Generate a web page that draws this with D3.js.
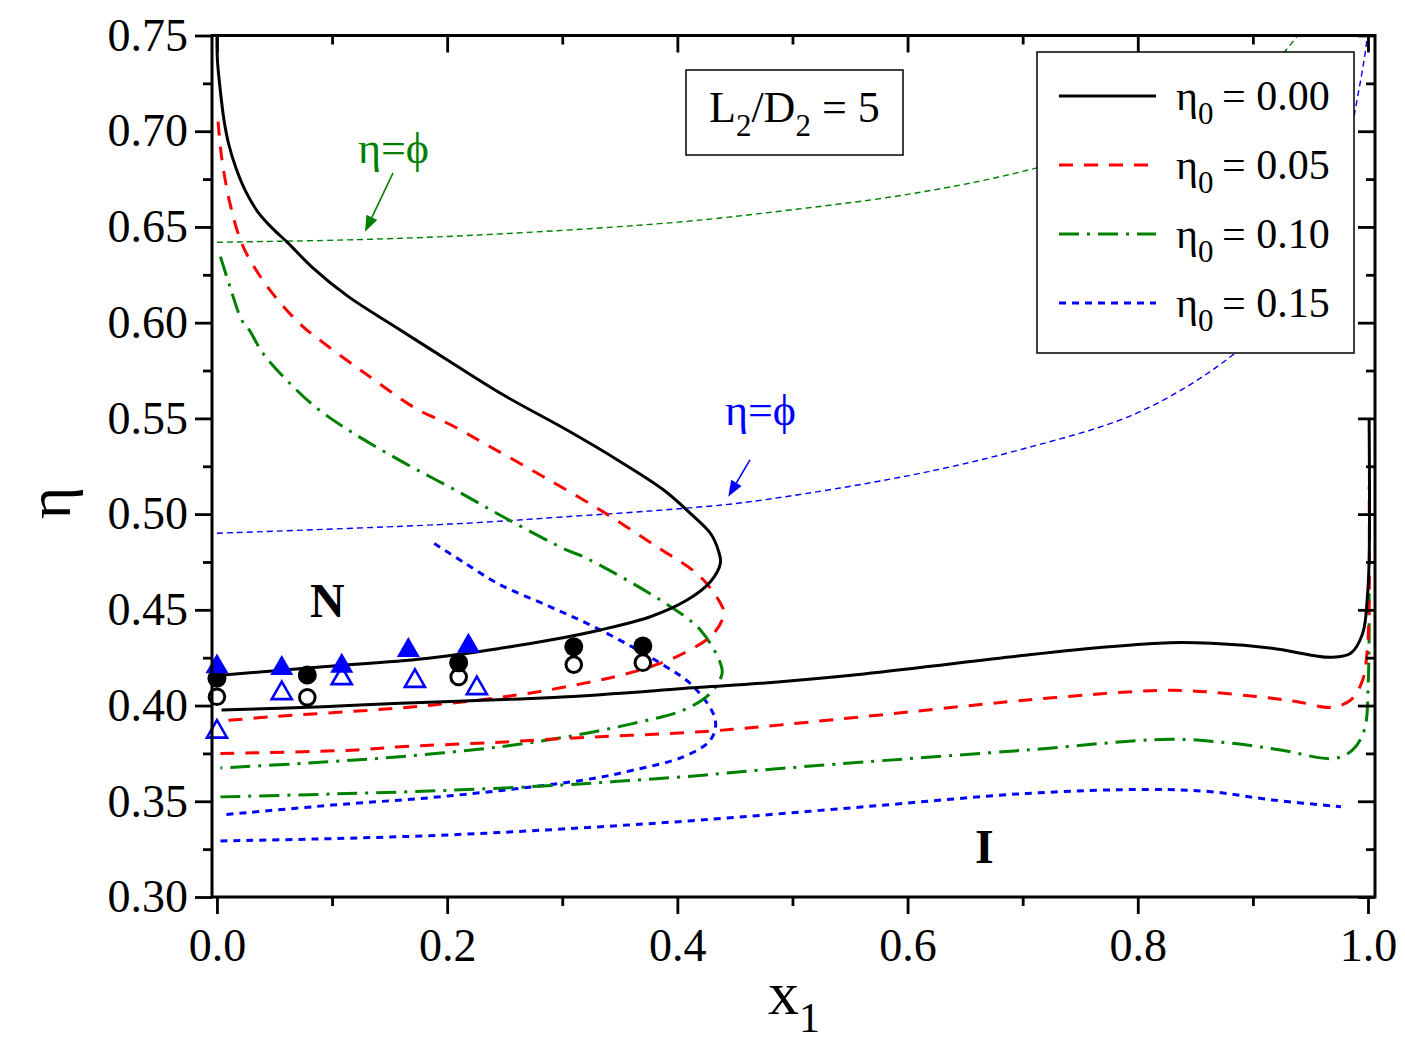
<!DOCTYPE html>
<html>
<head>
<meta charset="utf-8">
<style>
body { margin: 0; background: #fff; }
svg text { font-family: "Liberation Serif", "Times New Roman", serif; white-space: pre; }
</style>
</head>
<body>
<svg width="1405" height="1046"></svg>
<script src="https://d3js.org/d3.v7.min.js"></script>
<script>
// ---- data: [x1, eta] ----
// eta0 = 0.00
var black_upper = [[0.000,0.752],[0.0004,0.7372],[0.0026,0.7231],[0.0061,0.7059],[0.0104,0.6928],[0.0165,0.6808],[0.0252,0.6683],
  [0.0356,0.6578],[0.0478,0.6495],[0.0617,0.6417],[0.0823,0.6292],[0.1142,0.6136],[0.1548,0.5979],[0.2026,0.5796],[0.249,0.5622],
  [0.3041,0.5439],[0.3504,0.5274],[0.3881,0.5126],[0.4113,0.5004],[0.4287,0.490],[0.4355,0.4812],[0.4374,0.4745],[0.4287,0.4647],
  [0.4084,0.4551],[0.3765,0.4464],[0.333,0.4395],[0.2896,0.4342],[0.2461,0.4299],[0.1794,0.4245],[0.0924,0.4203],[0.003,0.4158]];
var black_lower = [[0.004,0.3977],[0.0922,0.3994],[0.159,0.4012],[0.2548,0.4033],[0.304,0.4046],[0.42,0.4095],[0.472,0.4116],
  [0.562,0.4165],[0.704,0.4264],[0.775,0.4307],[0.828,0.4328],[0.8635,0.4325],[0.9166,0.4299],[0.952,0.4262],[0.968,0.4252],
  [0.985,0.4273],[0.9954,0.4377],[0.9995,0.4569],[1.001,0.476],[1.001,0.550]];
// eta0 = 0.05
var red_upper = [[0.001,0.705],[0.004,0.6867],[0.0113,0.6623],[0.0215,0.6415],[0.034,0.6275],[0.0520,0.6125],[0.0737,0.5985],
  [0.0870,0.5920],[0.1287,0.5735],[0.175,0.5544],[0.2026,0.5468],[0.2374,0.5352],[0.2837,0.5195],[0.333,0.5021],[0.38,0.4838],
  [0.42,0.4673],[0.4374,0.4534],[0.4405,0.4482],[0.4316,0.4377],[0.4055,0.4273],[0.3678,0.4186],[0.3185,0.4116],[0.2606,0.4055],
  [0.188,0.4003],[0.136,0.3977],[0.049,0.3942],[0.003,0.3919]];
var red_lower = [[0.003,0.375],[0.1215,0.3768],[0.159,0.3785],[0.2374,0.3806],[0.304,0.3829],[0.42,0.3863],[0.472,0.3889],
  [0.5617,0.3942],[0.704,0.4029],[0.8104,0.4077],[0.846,0.4077],[0.9166,0.4038],[0.9389,0.402],[0.968,0.3991],[0.985,0.4029],
  [0.9954,0.4133],[0.9991,0.4273],[1.001,0.4516],[1.001,0.5143]];
// eta0 = 0.10
var green_upper = [[0.003,0.6345],[0.0113,0.6188],[0.0215,0.6014],[0.0280,0.5962],[0.0400,0.584],[0.0591,0.5709],[0.0852,0.5561],
  [0.1142,0.5439],[0.1635,0.5265],[0.207,0.5126],[0.2526,0.4973],[0.304,0.4812],[0.3185,0.4777],[0.3852,0.4551],[0.42,0.4395],
  [0.4374,0.4221],[0.4389,0.4168],[0.4287,0.4064],[0.4055,0.3977],[0.362,0.3907],[0.304,0.3837],[0.2461,0.3785],[0.159,0.3733],
  [0.08,0.370],[0.003,0.3674]];
var green_lower = [[0.003,0.3523],[0.1,0.3538],[0.2,0.3557],[0.3,0.3585],[0.362,0.361],[0.42,0.3635],[0.472,0.3663],[0.5617,0.3705],
  [0.704,0.3768],[0.828,0.3824],[0.8814,0.3803],[0.924,0.3768],[0.9707,0.3724],[0.9867,0.3768],[0.9968,0.3872],[1.0003,0.4133],
  [1.001,0.4586]];
// eta0 = 0.15
var blue_upper = [[0.1888,0.4847],[0.2157,0.4743],[0.2446,0.4635],[0.2896,0.4516],[0.333,0.4395],[0.3852,0.4221],[0.4142,0.4098],
  [0.433,0.3924],[0.4287,0.382],[0.4055,0.3733],[0.362,0.3663],[0.3185,0.3611],[0.2,0.3527],[0.1,0.348],[0.003,0.3428]];
var blue_lower = [[0.003,0.3293],[0.1,0.3305],[0.2,0.3324],[0.3,0.3355],[0.42,0.3402],[0.5617,0.3471],[0.704,0.3541],
  [0.8104,0.3562],[0.8635,0.355],[0.9166,0.3507],[0.9765,0.3472]];
// eta = phi lines
var green_phi = [[0.0,0.642],[0.13,0.6435],[0.25,0.6465],[0.4,0.6525],[0.5,0.659],[0.6,0.667],[0.7,0.679],[0.8,0.697],
  [0.9,0.726],[0.939,0.750],[0.96,0.77]];
var blue_phi = [[0.0,0.490],[0.2026,0.4948],[0.3,0.4985],[0.4055,0.503],[0.4635,0.5065],[0.6,0.520],[0.7,0.534],[0.8,0.553],
  [0.879,0.5815],[0.92,0.606],[0.95,0.630],[0.975,0.665],[0.988,0.708],[0.9985,0.745],[1.002,0.77]];

// experimental points
var pts_filled_circle = [[0.0,0.4142],[0.0785,0.4160],[0.210,0.4224],[0.310,0.4307],[0.370,0.4311]];
var pts_open_circle   = [[0.0,0.4046],[0.0785,0.4043],[0.210,0.4149],[0.310,0.4214],[0.370,0.4224]];
var pts_filled_tri    = [[0.0,0.4203],[0.0563,0.4194],[0.1084,0.4206],[0.1663,0.4288],[0.2185,0.4311]];
var pts_open_tri      = [[0.0,0.3863],[0.0563,0.4064],[0.1084,0.4142],[0.172,0.4128],[0.2258,0.4090]];

var xMajor = [0.0, 0.2, 0.4, 0.6, 0.8, 1.0];
var xMinor = [0.1, 0.3, 0.5, 0.7, 0.9];
var yMajor = [0.30, 0.35, 0.40, 0.45, 0.50, 0.55, 0.60, 0.65, 0.70, 0.75];
var yMinor = [0.325, 0.375, 0.425, 0.475, 0.525, 0.575, 0.625, 0.675, 0.725];
var legendLabels = ["0.00", "0.05", "0.10", "0.15"];

var svg = d3.select("svg");
var L = 212, R = 1375, T = 35.5, B = 897;

var x = d3.scaleLinear().domain([-0.0043, 1.0061]).range([L, R]);
var y = d3.scaleLinear().domain([0.30, 0.75]).range([B, T]);

var styles = [
  { color: "#000000", dash: null,         width: 3 },
  { color: "#ff0000", dash: "14,11",      width: 3 },
  { color: "#008000", dash: "20,8,3,8",   width: 3 },
  { color: "#0000ff", dash: "7,6",        width: 3 }
];

svg.append("clipPath").attr("id", "plotclip")
  .append("rect").attr("x", L).attr("y", T).attr("width", R - L).attr("height", B - T);

var line = d3.line()
    .x(function(d) { return x(d[0]); })
    .y(function(d) { return y(d[1]); })
    .curve(d3.curveCatmullRom.alpha(0.5));

var plot = svg.append("g").attr("clip-path", "url(#plotclip)");

// thin eta = phi lines
[[green_phi, "#008000"], [blue_phi, "#0000ff"]].forEach(function(p) {
  plot.append("path").datum(p[0])
    .attr("d", line).attr("fill", "none")
    .attr("stroke", p[1]).attr("stroke-width", 1.4)
    .attr("stroke-dasharray", "6,4");
});

var curves = [
  [black_upper, black_lower],
  [red_upper, red_lower],
  [green_upper, green_lower],
  [blue_upper, blue_lower]
];
curves.slice().reverse().forEach(function(c, j) {
  var s = styles[3 - j];
  c.forEach(function(branch) {
    plot.append("path").datum(branch)
      .attr("d", line).attr("fill", "none")
      .attr("stroke", s.color).attr("stroke-width", s.width)
      .attr("stroke-dasharray", s.dash)
      .attr("stroke-linejoin", "round");
  });
});

// markers
var tri = d3.symbol().type(d3.symbolTriangle).size(230);
var triO = d3.symbol().type(d3.symbolTriangle).size(175);

svg.append("g").selectAll("circle").data(pts_open_circle).enter().append("circle")
  .attr("cx", function(d) { return x(d[0]); }).attr("cy", function(d) { return y(d[1]); })
  .attr("r", 7.8).attr("fill", "#fff").attr("stroke", "#000").attr("stroke-width", 3);
svg.append("g").selectAll("circle").data(pts_filled_circle).enter().append("circle")
  .attr("cx", function(d) { return x(d[0]); }).attr("cy", function(d) { return y(d[1]); })
  .attr("r", 9.5).attr("fill", "#000");
svg.append("g").selectAll("path").data(pts_open_tri).enter().append("path")
  .attr("d", triO)
  .attr("transform", function(d) { return "translate(" + x(d[0]) + "," + y(d[1]) + ")"; })
  .attr("fill", "#fff").attr("stroke", "#0000ff").attr("stroke-width", 2.6);
svg.append("g").selectAll("path").data(pts_filled_tri).enter().append("path")
  .attr("d", tri)
  .attr("transform", function(d) { return "translate(" + x(d[0]) + "," + y(d[1]) + ")"; })
  .attr("fill", "#0000ff");

// axes
function styleAxis(g) {
  g.select(".domain").remove();
  g.selectAll(".tick line").attr("stroke", "#000").attr("stroke-width", 2.8);
  g.selectAll(".tick text").attr("font-size", 46).attr("fill", "#000")
    .attr("font-family", "'Liberation Serif', 'Times New Roman', serif");
}
svg.append("g").attr("transform", "translate(0," + B + ")")
  .call(d3.axisBottom(x).tickValues(xMajor).tickSize(17).tickPadding(14).tickFormat(d3.format(".1f"))).call(styleAxis);
svg.append("g").attr("transform", "translate(0," + B + ")")
  .call(d3.axisBottom(x).tickValues(xMinor).tickSize(9).tickFormat("")).call(styleAxis);
svg.append("g").attr("transform", "translate(0," + T + ")")
  .call(d3.axisTop(x).tickValues(xMajor).tickSize(-17).tickFormat("")).call(styleAxis);
svg.append("g").attr("transform", "translate(0," + T + ")")
  .call(d3.axisTop(x).tickValues(xMinor).tickSize(-9).tickFormat("")).call(styleAxis);
svg.append("g").attr("transform", "translate(" + L + ",0)")
  .call(d3.axisLeft(y).tickValues(yMajor).tickSize(17).tickPadding(7).tickFormat(d3.format(".2f"))).call(styleAxis);
svg.append("g").attr("transform", "translate(" + L + ",0)")
  .call(d3.axisLeft(y).tickValues(yMinor).tickSize(9).tickFormat("")).call(styleAxis);
svg.append("g").attr("transform", "translate(" + R + ",0)")
  .call(d3.axisRight(y).tickValues(yMajor).tickSize(-17).tickFormat("")).call(styleAxis);
svg.append("g").attr("transform", "translate(" + R + ",0)")
  .call(d3.axisRight(y).tickValues(yMinor).tickSize(-9).tickFormat("")).call(styleAxis);

svg.append("rect").attr("x", L).attr("y", T).attr("width", R - L).attr("height", B - T)
  .attr("fill", "none").attr("stroke", "#000").attr("stroke-width", 3);

// axis titles
var xt = svg.append("text").attr("x", 768).attr("y", 1014).attr("font-size", 62);
xt.append("tspan").text("x");
xt.append("tspan").attr("font-size", 42).attr("dy", 18).text("1");
svg.append("text").attr("transform", "translate(70,503) rotate(-90)")
  .attr("text-anchor", "middle").attr("font-size", 62).text("η");

// annotations
function arrow(x0, y0, x1, y1, color) {
  var px0 = x(x0), py0 = y(y0), px1 = x(x1), py1 = y(y1);
  var a = Math.atan2(py1 - py0, px1 - px0), len = 16, w = 6;
  var bx = px1 - len * Math.cos(a), by = py1 - len * Math.sin(a);
  svg.append("line").attr("x1", px0).attr("y1", py0).attr("x2", bx).attr("y2", by)
    .attr("stroke", color).attr("stroke-width", 1.6);
  svg.append("path").attr("fill", color)
    .attr("d", "M" + px1 + "," + py1 +
      "L" + (bx + w * Math.sin(a)) + "," + (by - w * Math.cos(a)) +
      "L" + (bx - w * Math.sin(a)) + "," + (by + w * Math.cos(a)) + "Z");
}
svg.append("text").attr("x", x(0.1225)).attr("y", y(0.6834)).attr("font-size", 44).attr("fill", "#008000").text("η=ϕ");
arrow(0.153, 0.6782, 0.1286, 0.6475, "#008000");
svg.append("text").attr("x", x(0.4414)).attr("y", y(0.5466)).attr("font-size", 44).attr("fill", "#0000ff").text("η=ϕ");
arrow(0.4631, 0.5283, 0.4442, 0.5091, "#0000ff");
svg.append("text").attr("x", x(0.0808)).attr("y", y(0.4463)).attr("font-size", 48).attr("font-weight", "bold").text("N");
svg.append("text").attr("x", x(0.6586)).attr("y", y(0.318)).attr("font-size", 48).attr("font-weight", "bold").text("I");

// L2/D2 box
svg.append("rect").attr("x", 686).attr("y", 70).attr("width", 217).attr("height", 85)
  .attr("fill", "#fff").attr("stroke", "#000").attr("stroke-width", 1.5);
var ld = svg.append("text").attr("x", 709).attr("y", 122).attr("font-size", 44);
ld.append("tspan").text("L");
ld.append("tspan").attr("font-size", 31).attr("dy", 14).text("2");
ld.append("tspan").attr("dy", -14).text("/D");
ld.append("tspan").attr("font-size", 31).attr("dy", 14).text("2");
ld.append("tspan").attr("dy", -14).text(" = 5");

// legend
var lg = svg.append("g");
lg.append("rect").attr("x", 1037).attr("y", 52).attr("width", 317).attr("height", 301)
  .attr("fill", "#fff").attr("stroke", "#000").attr("stroke-width", 1.5);
legendLabels.forEach(function(lab, i) {
  var cy = 96 + i * 69, s = styles[i];
  lg.append("line").attr("x1", 1059).attr("x2", 1156).attr("y1", cy).attr("y2", cy)
    .attr("stroke", s.color).attr("stroke-width", s.width).attr("stroke-dasharray", s.dash);
  var t = lg.append("text").attr("x", 1176).attr("y", cy + 14).attr("font-size", 42);
  t.append("tspan").text("η");
  t.append("tspan").attr("font-size", 31).attr("dy", 14).text("0");
  t.append("tspan").attr("x", 1222).attr("dy", -14).text("= " + lab);
});
</script>
</body>
</html>
